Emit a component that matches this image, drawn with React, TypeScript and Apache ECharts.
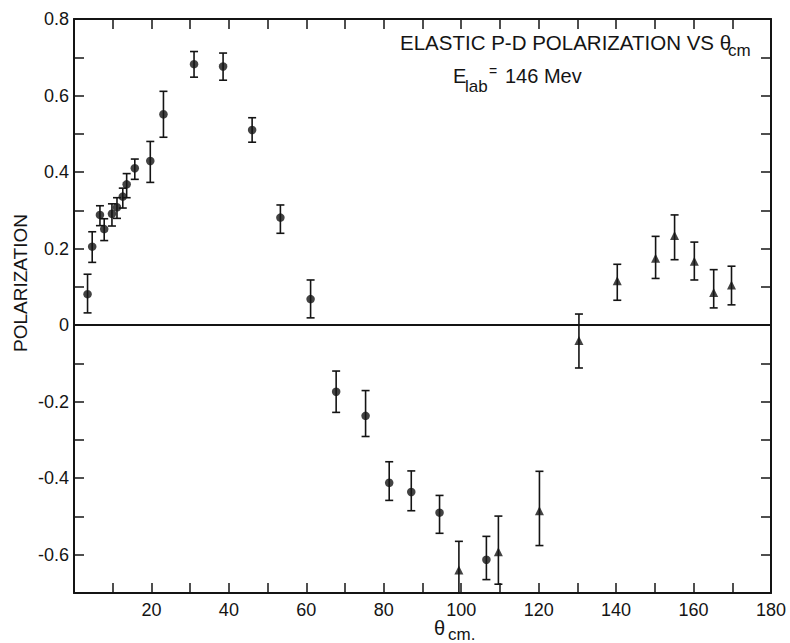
import React, { useEffect, useRef } from "react";
import * as echarts from "echarts";

// [theta_cm, polarization, lower error end, upper error end]
const circlePoints: number[][] = [
  [3.5, 0.081, 0.032, 0.133],
  [4.7, 0.205, 0.164, 0.244],
  [6.7, 0.288, 0.26, 0.312],
  [7.8, 0.251, 0.221, 0.278],
  [9.8, 0.291, 0.259, 0.317],
  [11.1, 0.308, 0.279, 0.333],
  [12.6, 0.336, 0.306, 0.358],
  [13.6, 0.368, 0.333, 0.396],
  [15.7, 0.41, 0.381, 0.434],
  [19.7, 0.429, 0.373, 0.48],
  [23.1, 0.551, 0.491, 0.611],
  [31.0, 0.682, 0.648, 0.715],
  [38.5, 0.676, 0.64, 0.711],
  [46.0, 0.51, 0.478, 0.542],
  [53.3, 0.281, 0.24, 0.314],
  [61.1, 0.068, 0.019, 0.118],
  [67.7, -0.174, -0.228, -0.12],
  [75.3, -0.237, -0.291, -0.171],
  [81.4, -0.412, -0.458, -0.357],
  [87.1, -0.436, -0.485, -0.381],
  [94.4, -0.49, -0.544, -0.445],
  [106.5, -0.613, -0.665, -0.552],
];

const trianglePoints: number[][] = [
  [99.4, -0.64, -0.7, -0.565],
  [109.6, -0.592, -0.677, -0.499],
  [120.2, -0.485, -0.576, -0.382],
  [130.4, -0.04, -0.112, 0.029],
  [140.3, 0.116, 0.065, 0.159],
  [150.2, 0.175, 0.122, 0.232],
  [155.1, 0.234, 0.171, 0.288],
  [160.2, 0.167, 0.118, 0.217],
  [165.2, 0.085, 0.045, 0.145],
  [169.8, 0.105, 0.053, 0.154],
];

const xTickLabels = [20, 40, 60, 80, 100, 120, 140, 160, 180];
const yTickLabels = [-0.6, -0.4, -0.2, 0, 0.2, 0.4, 0.6, 0.8];

const FONT = "'Liberation Sans', 'DejaVu Sans', Arial, sans-serif";
const INK = "#141414";

export default function App() {
  const ref = useRef<HTMLDivElement>(null);

  useEffect(() => {
    const chart = echarts.init(ref.current!, null, { renderer: "svg" });

    const errRender = (params: any, api: any) => {
      const x = api.value(0);
      const lo = api.coord([x, api.value(2)]);
      const hi = api.coord([x, api.value(3)]);
      const w = 4;
      const style = { stroke: INK, lineWidth: 1.6 };
      return {
        type: "group",
        children: [
          { type: "line", shape: { x1: lo[0], y1: lo[1], x2: hi[0], y2: hi[1] }, style },
          { type: "line", shape: { x1: lo[0] - w, y1: lo[1], x2: lo[0] + w, y2: lo[1] }, style },
          { type: "line", shape: { x1: hi[0] - w, y1: hi[1], x2: hi[0] + w, y2: hi[1] }, style },
        ],
      };
    };

    const axisLine = { show: true, onZero: false, lineStyle: { color: INK, width: 2 } };
    const axisTick = { show: true, inside: true, length: 10, lineStyle: { color: INK, width: 1.5 } };

    const xLabelFmt = (v: number) =>
      xTickLabels.some((l) => Math.abs(l - v) < 1e-6) ? String(v) : "";
    const yLabelFmt = (v: number) => {
      const m = yTickLabels.find((l) => Math.abs(l - v) < 1e-6);
      if (m === undefined) return "";
      return m === 0 ? "0" : m.toFixed(1);
    };

    chart.setOption({
      animation: false,
      backgroundColor: "#ffffff",
      grid: { left: 74, right: 19, top: 19, bottom: 50, containLabel: false },
      xAxis: [
        {
          type: "value",
          min: 0,
          max: 180,
          interval: 10,
          position: "bottom",
          axisLine,
          axisTick,
          splitLine: { show: false },
          axisLabel: {
            show: true,
            formatter: xLabelFmt,
            color: INK,
            fontFamily: FONT,
            fontSize: 18,
            margin: 8,
            showMinLabel: true,
            showMaxLabel: true,
          },
        },
        {
          type: "value",
          min: 0,
          max: 180,
          interval: 10,
          position: "top",
          axisLine,
          axisTick,
          splitLine: { show: false },
          axisLabel: { show: false },
        },
      ],
      yAxis: [
        {
          type: "value",
          min: -0.7,
          max: 0.8,
          interval: 0.1,
          position: "left",
          axisLine,
          axisTick,
          splitLine: { show: false },
          axisLabel: {
            show: true,
            formatter: yLabelFmt,
            color: INK,
            fontFamily: FONT,
            fontSize: 18,
            margin: 5,
            showMinLabel: true,
            showMaxLabel: true,
          },
        },
        {
          type: "value",
          min: -0.7,
          max: 0.8,
          interval: 0.1,
          position: "right",
          axisLine,
          axisTick,
          splitLine: { show: false },
          axisLabel: { show: false },
        },
      ],
      series: [
        {
          type: "custom",
          name: "errCircle",
          renderItem: errRender,
          data: circlePoints,
          encode: { x: 0, y: 1 },
          clip: true,
          z: 2,
        },
        {
          type: "custom",
          name: "errTriangle",
          renderItem: errRender,
          data: trianglePoints,
          encode: { x: 0, y: 1 },
          clip: true,
          z: 2,
        },
        {
          type: "scatter",
          name: "circles",
          data: circlePoints.map((p) => [p[0], p[1]]),
          symbol: "circle",
          symbolSize: 8.5,
          itemStyle: { color: INK },
          z: 3,
          markLine: {
            silent: true,
            symbol: "none",
            label: { show: false },
            lineStyle: { color: INK, width: 2, type: "solid" },
            data: [{ yAxis: 0 }],
          },
        },
        {
          type: "scatter",
          name: "triangles",
          data: trianglePoints.map((p) => [p[0], p[1]]),
          symbol: "triangle",
          symbolSize: 9,
          itemStyle: { color: INK },
          z: 3,
        },
      ],
      graphic: [
        {
          type: "text",
          left: 400,
          top: 32,
          style: { text: "ELASTIC P-D POLARIZATION VS θ", font: `20.5px ${FONT}`, fill: INK },
        },
        {
          type: "text",
          left: 728,
          top: 42,
          style: { text: "cm", font: `17px ${FONT}`, fill: INK },
        },
        {
          type: "text",
          left: 453,
          top: 66,
          style: { text: "E", font: `20px ${FONT}`, fill: INK },
        },
        {
          type: "text",
          left: 465,
          top: 78,
          style: { text: "lab", font: `17px ${FONT}`, fill: INK },
        },
        {
          type: "text",
          left: 489,
          top: 64,
          style: { text: "=", font: `14px ${FONT}`, fill: INK },
        },
        {
          type: "text",
          left: 505,
          top: 66,
          style: { text: "146 Mev", font: `20px ${FONT}`, fill: INK },
        },
        {
          type: "text",
          x: 20,
          y: 283,
          rotation: Math.PI / 2,
          style: {
            text: "POLARIZATION",
            font: `19px ${FONT}`,
            fill: INK,
            align: "center",
            verticalAlign: "middle",
          },
        },
        {
          type: "text",
          left: 434,
          top: 618,
          style: { text: "θ", font: `20px ${FONT}`, fill: INK },
        },
        {
          type: "text",
          left: 448,
          top: 626,
          style: { text: "cm.", font: `17px ${FONT}`, fill: INK },
        },
      ],
    });

    return () => {
      chart.dispose();
    };
  }, []);

  return (
    <div
      ref={ref}
      style={{ position: "absolute", left: 0, top: 0, width: 790, height: 643, background: "#fff" }}
    />
  );
}
